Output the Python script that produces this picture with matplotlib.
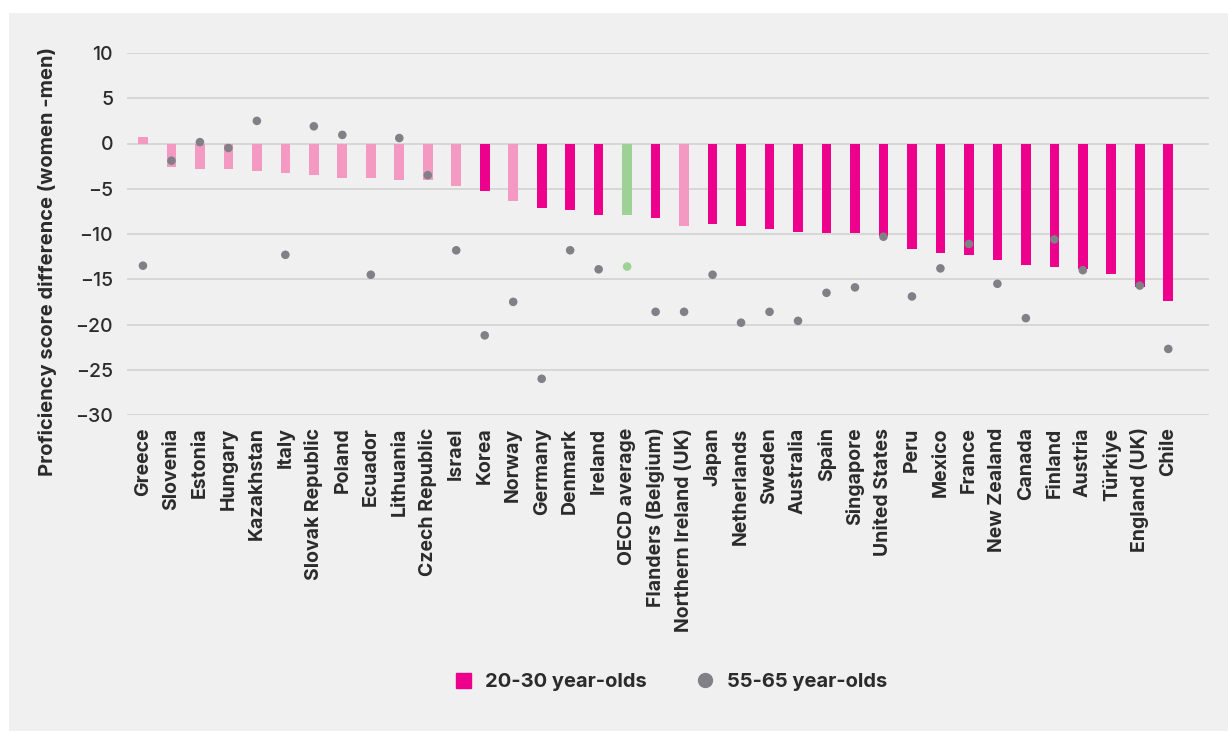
import matplotlib.pyplot as plt
from matplotlib.patches import Rectangle
from matplotlib.lines import Line2D
import numpy as np

plt.rcParams['font.family'] = ['Inter', 'DejaVu Sans']

countries = ['Greece', 'Slovenia', 'Estonia', 'Hungary', 'Kazakhstan', 'Italy',
             'Slovak Republic', 'Poland', 'Ecuador', 'Lithuania', 'Czech Republic',
             'Israel', 'Korea', 'Norway', 'Germany', 'Denmark', 'Ireland',
             'OECD average', 'Flanders (Belgium)', 'Northern Ireland (UK)', 'Japan',
             'Netherlands', 'Sweden', 'Australia', 'Spain', 'Singapore',
             'United States', 'Peru', 'Mexico', 'France', 'New Zealand', 'Canada',
             'Finland', 'Austria', 'Türkiye', 'England (UK)', 'Chile']

# 20-30 year-olds
young = [0.75, -2.6, -2.8, -2.8, -3.0, -3.3, -3.5, -3.8, -3.8, -4.0, -4.0,
         -4.7, -5.2, -6.3, -7.1, -7.3, -7.9,
         -7.9, -8.2, -9.1, -8.9, -9.1, -9.5, -9.75, -9.85, -9.85,
         -10.2, -11.7, -12.1, -12.3, -12.9, -13.4, -13.6, -13.9, -14.4, -15.9, -17.4]

# 55-65 year-olds (no value for Türkiye)
old = [-13.5, -1.9, 0.15, -0.5, 2.5, -12.3, 1.9, 0.95, -14.5, 0.6, -3.5,
       -11.8, -21.2, -17.5, -26.0, -11.8, -13.9,
       -13.6, -18.6, -18.6, -14.5, -19.8, -18.6, -19.6, -16.5, -15.9,
       -10.3, -16.9, -13.8, -11.1, -15.5, -19.3, -10.6, -14.0, np.nan, -15.7, -22.7]

# bar shading: 'light' = not significant, 'avg' = OECD average
shade = ['light'] * 12 + ['dark', 'light', 'dark', 'dark', 'dark', 'avg', 'dark', 'light'] + ['dark'] * 17

pink = '#EC008C'
light_pink = '#F49AC2'
green = '#9DD195'
grey = '#808086'
bg = '#EFF0EF'
text_col = '#2B2B2B'

bar_colors = [pink if s == 'dark' else light_pink if s == 'light' else green for s in shade]
dot_colors = [green if s == 'avg' else grey for s in shade]

fig = plt.figure(figsize=(12.28, 7.31), dpi=100)
fig.patches.append(Rectangle((9 / 1228, 0), 1, 1 - 13 / 731, transform=fig.transFigure,
                             facecolor=bg, edgecolor='none', zorder=-10))

ax = fig.add_axes([127 / 1228, 1 - 415 / 731, (1209 - 127) / 1228, (415 - 53) / 731])
ax.set_facecolor('none')

x = np.arange(len(countries))
ax.bar(x, young, width=0.34, color=bar_colors, zorder=2)
ax.scatter(x, old, s=38, color=dot_colors, zorder=3, edgecolors='none')

ax.set_ylim(-30, 10)
ax.set_xlim(-0.56, len(countries) - 1 + 1.43)
ax.set_yticks(range(-30, 11, 5))
ax.grid(axis='y', color='#D6D7D6', linewidth=1.4, zorder=0)
ax.set_axisbelow(True)
for sp in ax.spines.values():
    sp.set_visible(False)
ax.tick_params(length=0, colors=text_col)
ax.tick_params(axis='y', labelsize=14, pad=10)
ax.set_xticks(x)
ax.set_xticklabels(countries, rotation=90, fontsize=14, fontweight='bold', color=text_col)
ax.tick_params(axis='x', pad=9)
for lbl in ax.get_yticklabels():
    lbl.set_fontweight('medium')

ax.set_ylabel('Proficiency score difference (women -men)', fontsize=14.5, fontweight='bold',
              color=text_col, labelpad=13)
ax.yaxis.label.set_y(0.425)

handles = [Line2D([], [], marker='s', linestyle='none', markersize=10.8, color=pink, label='20-30 year-olds'),
           Line2D([], [], marker='o', linestyle='none', markersize=10, color=grey, label='55-65 year-olds')]
leg = fig.legend(handles=handles, loc='center', bbox_to_anchor=(665 / 1228, 1 - 682 / 731), ncol=2,
                 frameon=False, fontsize=14.5, handletextpad=0.1, columnspacing=1.9)
for t in leg.get_texts():
    t.set_fontweight('bold')
    t.set_color(text_col)

fig.savefig('out.png', dpi=100, facecolor='white')
